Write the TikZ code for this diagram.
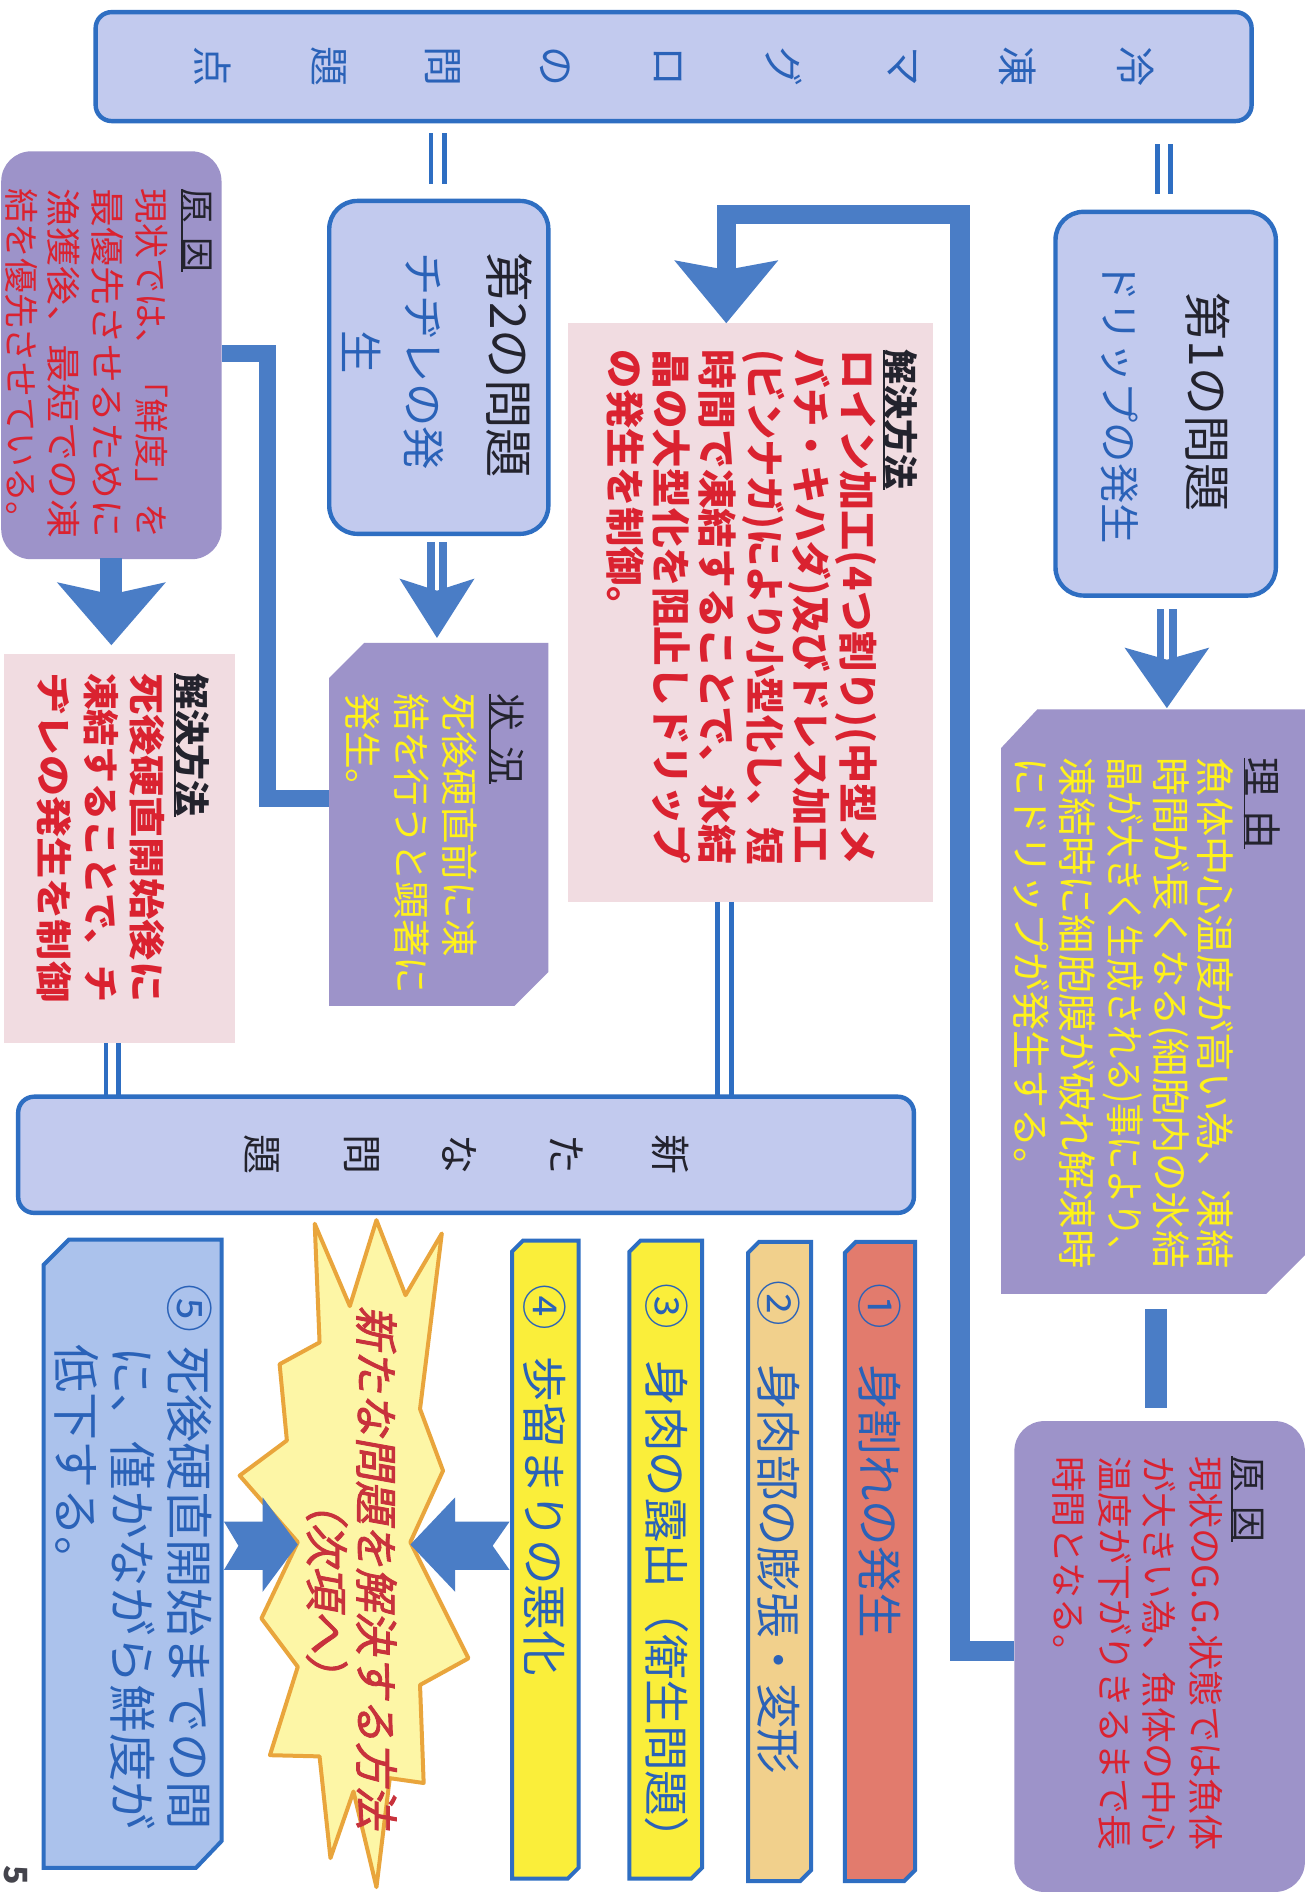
\documentclass[tikz,border=0pt]{standalone}
\usepackage{fontspec}
\usepackage{graphicx}
\setmainfont{Noto Sans CJK JP}
\newfontfamily\jpsl[FakeSlant=0.18,FakeBold=2]{Noto Sans CJK JP}
\usetikzlibrary{fit}
\definecolor{bord}{HTML}{2E6EC2}
\definecolor{arrb}{HTML}{4A7DC6}
\definecolor{lb}{HTML}{C2CAEE}
\definecolor{purp}{HTML}{9D93C9}
\definecolor{pinkb}{HTML}{F1DCE1}
\definecolor{ytxt}{HTML}{FFF21A}
\definecolor{rtxt}{HTML}{DA2230}
\definecolor{dtxt}{HTML}{23232D}
\definecolor{btxt}{HTML}{2A62B8}
\definecolor{salm}{HTML}{E27B6D}
\definecolor{tanf}{HTML}{F1D08C}
\definecolor{yelf}{HTML}{FAEE3A}
\definecolor{lbfive}{HTML}{ABC2EC}
\definecolor{starf}{HTML}{FDF6A6}
\definecolor{stard}{HTML}{E9A53C}
\definecolor{startxt}{HTML}{C8323C}
\newdimen\jpu \jpu=0.6055pt
\newcommand\fsz[1]{\fontsize{#1pt}{#1pt}\selectfont}
\newcommand\jl[2]{\resizebox{#1\jpu}{\height}{#2}}
\newcommand\dblarr[5]{%
  \fill[arrb] ({#1-8},#2) rectangle ({#1-2},{#3+12});
  \fill[arrb] ({#1+2},#2) rectangle ({#1+8},{#3+12});
  \fill[arrb] ({#1-#5},#3) -- (#1,{#3+10}) -- ({#1+#5},#3) -- (#1,#4) -- cycle;}
\newcommand\stripbox[5]{%
  \filldraw[fill=#5, draw=bord, line width=2pt, line join=miter]
    (#1,{#2+9}) -- ({#1+9},#2) -- (#3,#2) -- (#3,{#4-9}) -- ({#3-9},#4) -- (#1,#4) -- cycle;}
\tikzset{
  jcol/.style={rotate=-90, anchor=west, inner sep=0pt, outer sep=0pt},
  jch/.style={rotate=-90, inner sep=0pt, outer sep=0pt},
  blbox/.style={draw=bord, fill=lb, line width=2.2pt},
  fitbox/.style={inner sep=0pt, outer sep=0pt},
  dbl/.style={draw=bord, line width=2.4pt},
  uline/.style={draw=dtxt, line width=0.9pt},
}
\begin{document}
\begin{tikzpicture}[x=0.6055pt,y=-0.6055pt]
\useasboundingbox[fill=white] (0,0) rectangle (1081,1568);

% ---------- header
\node[fit={(79,10)(1034,100)}, fitbox, blbox, rounded corners=8pt] (hdr) {};
\foreach \c/\x [count=\i] in {冷/938,凍/841,マ/745,グ/648,ロ/552,の/459,問/366,題/272,点/176}
  \node[jch, font=\fsz{20}, text=btxt] (hc\i) at (\x,55) {\c};
\draw[dbl] (956,119) -- (956,160) (967,119) -- (967,160);
\draw[dbl] (356,110) -- (356,152) (367,110) -- (367,152);

% ---------- problem 1
\node[fit={(872,175)(1054,492)}, fitbox, blbox, rounded corners=14pt] (pA) {};
\node[jcol, font=\fsz{24}, text=dtxt] (pAt) at (998,242) {第1の問題};
\node[jcol, font=\fsz{20.2}, text=btxt] (pAs) at (925,216) {ドリップの発生};
\dblarr{964}{503}{535}{585}{35}

% ---------- reason
\fill[purp] (827,618) -- (857,586) -- (1078,586) -- (1078,1037) -- (1046,1069) -- (827,1069) -- cycle;
\node[jcol, font=\fsz{19.5}, text=dtxt] (rh) at (1043,626) {理\hspace{0.35em}由};
\draw[uline] (rh.south west) -- (rh.south east);
\node[jcol, font=\fsz{19.5}, text=ytxt] (r1) at (1004,626) {\jl{422}{魚体中心温度が高い為、凍結}};
\node[jcol, font=\fsz{19.5}, text=ytxt] (r2) at (966,626) {\jl{422}{時間が長くなる(細胞内の氷結}};
\node[jcol, font=\fsz{19.5}, text=ytxt] (r3) at (928,626) {\jl{422}{晶が大きく生成される)事により、}};
\node[jcol, font=\fsz{19.5}, text=ytxt] (r4) at (890,626) {\jl{422}{凍結時に細胞膜が破れ解凍時}};
\node[jcol, font=\fsz{19.5}, text=ytxt] (r5) at (852,626) {にドリップが発生する。};
\fill[arrb] (946,1081) rectangle (964,1163);

% ---------- cause (right)
\node[fit={(838,1174)(1078,1563)}, fitbox, fill=purp, rounded corners=15pt] (gR) {};
\node[jcol, font=\fsz{17.9}, text=dtxt] (gRh) at (1031,1203) {原\hspace{0.4em}因};
\draw[uline] (gRh.south west) -- (gRh.south east);
\node[jcol, font=\fsz{17.9}, text=rtxt] (gR1) at (996,1203) {\jl{326}{現状のG.G.状態では魚体}};
\node[jcol, font=\fsz{17.9}, text=rtxt] (gR2) at (958,1203) {\jl{326}{が大きい為、魚体の中心}};
\node[jcol, font=\fsz{17.9}, text=rtxt] (gR3) at (921,1203) {\jl{326}{温度が下がりきるまで長}};
\node[jcol, font=\fsz{17.9}, text=rtxt] (gR4) at (883,1203) {時間となる。};

% ---------- solution (middle)
\node[fit={(469,267)(771,745)}, fitbox, fill=pinkb] (sM) {};
\node[jcol, font=\fsz{17.5}\bfseries, text=dtxt] (sMh) at (744,289) {解決方法};
\draw[uline] (sMh.south west) -- (sMh.south east);
\node[jcol, font=\fsz{19.7}\bfseries, text=rtxt] (sM1) at (707,289) {\jl{425}{ロイン加工(4つ割り)(中型メ}};
\node[jcol, font=\fsz{19.7}\bfseries, text=rtxt] (sM2) at (669,289) {\jl{425}{バチ・キハダ)及びドレス加工}};
\node[jcol, font=\fsz{19.7}\bfseries, text=rtxt] (sM3) at (631,289) {\jl{425}{(ビンナガ)により小型化し、短}};
\node[jcol, font=\fsz{19.7}\bfseries, text=rtxt] (sM4) at (593,289) {\jl{425}{時間で凍結することで、氷結}};
\node[jcol, font=\fsz{19.7}\bfseries, text=rtxt] (sM5) at (555,289) {\jl{425}{晶の大型化を阻止しドリップ}};
\node[jcol, font=\fsz{19.7}\bfseries, text=rtxt] (sM6) at (517,289) {の発生を制御。};

% loop connector cause(right) -> solution(middle)
\coordinate (loopS) at (gR.west |- 0,1364);
\draw[arrb, line width=9.7pt] (loopS) -- (793,1364) -- (793,177) -- (600,177) -- (600,226);
\fill[arrb] (557,215) -- (600,223) -- (643,215) -- (sM.north -| 600,0) -- cycle;

% ---------- problem 2
\node[fit={(272,166)(453,441)}, fitbox, blbox, rounded corners=14pt] (pB) {};
\node[jcol, font=\fsz{24.7}, text=dtxt] (pBt) at (421,209) {第2の問題};
\node[jcol, font=\fsz{21.7}, text=btxt] (pBs) at (350,209) {チヂレの発};
\node[jcol, font=\fsz{21.7}, text=btxt] (pBs2) at (299,273) {生};
\dblarr{361}{448}{478}{527}{31}

% ---------- situation
\fill[purp] (272,560) -- (301,531) -- (453,531) -- (453,803) -- (425,831) -- (272,831) -- cycle;
\coordinate (jW) at (272,660);
\node[jcol, font=\fsz{18.8}, text=dtxt] (jh) at (419,573) {状\hspace{0.4em}況};
\draw[uline] (jh.south west) -- (jh.south east);
\node[jcol, font=\fsz{18.8}, text=ytxt] (j1) at (380,573) {死後硬直前に凍};
\node[jcol, font=\fsz{18.8}, text=ytxt] (j2) at (340,573) {結を行うと顕著に};
\node[jcol, font=\fsz{18.8}, text=ytxt] (j3) at (300,573) {発生。};

% ---------- cause (left)
\node[fit={(1,125)(183,462)}, fitbox, fill=purp, rounded corners=15pt] (gL) {};
\node[jcol, font=\fsz{17.4}, text=dtxt] (gLh) at (163,156) {原\hspace{0.4em}因};
\draw[uline] (gLh.south west) -- (gLh.south east);
\node[jcol, font=\fsz{17.4}, text=rtxt] (gL1) at (125,156) {\jl{289}{現状では、「鮮度」を}};
\node[jcol, font=\fsz{17.4}, text=rtxt] (gL2) at (89,156) {\jl{289}{最優先させるために}};
\node[jcol, font=\fsz{17.4}, text=rtxt] (gL3) at (53,156) {\jl{289}{漁獲後、最短での凍}};
\node[jcol, font=\fsz{17.4}, text=rtxt] (gL4) at (18,156) {結を優先させている。};

% loop connector cause(left) -> situation
\draw[arrb, line width=8.5pt] (gL.east |- 0,292) -- (221,292) -- (221,660) -- (jW);

% arrow cause(left) -> solution(left)
\fill[arrb] (83,461) rectangle (101,495);
\fill[arrb] (47,481) -- (92,491) -- (137,481) -- (92,533) -- cycle;

% ---------- solution (left)
\node[fit={(3,540)(194,862)}, fitbox, fill=pinkb] (sL) {};
\node[jcol, font=\fsz{18}\bfseries, text=dtxt] (sLh) at (159,556) {解決方法};
\draw[uline] (sLh.south west) -- (sLh.south east);
\node[jcol, font=\fsz{18.2}\bfseries, text=rtxt] (sL1) at (122,556) {\jl{272}{死後硬直開始後に}};
\node[jcol, font=\fsz{18.2}\bfseries, text=rtxt] (sL2) at (84,556) {\jl{272}{凍結することで、チ}};
\node[jcol, font=\fsz{18.2}\bfseries, text=rtxt] (sL3) at (45,556) {\jl{272}{ヂレの発生を制御}};

% ---------- new problems header
\node[fit={(15,906)(755,1002)}, fitbox, blbox, rounded corners=8pt] (nP) {};
\foreach \c/\x [count=\i] in {新/554,た/468,な/380,問/299,題/216}
  \node[jch, font=\fsz{20}, text=dtxt] (nc\i) at (\x,954) {\c};
\draw[dbl] (sM.south -| 593,0) -- (nP.north -| 593,0) (sM.south -| 604,0) -- (nP.north -| 604,0);
\draw[dbl] (sL.south -| 87.5,0) -- (nP.north -| 87.5,0) (sL.south -| 98,0) -- (nP.north -| 98,0);

% ---------- strips
\stripbox{698}{1026}{756}{1554}{salm}
\node[jcol, font=\fsz{22.8}, text=btxt] (i1n) at (727,1060) {①};
\node[jcol, font=\fsz{22.8}, text=btxt] (i1t) at (727,1127) {身割れの発生};
\stripbox{618}{1026}{670}{1554}{tanf}
\node[jcol, font=\fsz{22.8}, text=btxt] (i2n) at (643,1058) {②};
\node[jcol, font=\fsz{22.8}, text=btxt] (i2t) at (643,1127) {身肉部の膨張・変形};
\stripbox{520}{1025}{580}{1552}{yelf}
\node[jcol, font=\fsz{22.8}, text=btxt] (i3n) at (551,1060) {③};
\node[jcol, font=\fsz{22.8}, text=btxt] (i3t) at (551,1124) {身肉の露出（衛生問題）};
\stripbox{423}{1025}{478}{1552}{yelf}
\node[jcol, font=\fsz{22.8}, text=btxt] (i4n) at (450,1061) {④};
\node[jcol, font=\fsz{22.8}, text=btxt] (i4t) at (450,1121) {歩留まりの悪化};

% ---------- item 5
\filldraw[fill=lbfive, draw=bord, line width=2pt] (36,1045) -- (57,1024) -- (183,1024) -- (183,1521) -- (162,1543) -- (36,1543) -- cycle;
\node[jcol, font=\fsz{24}, text=btxt] (i5n) at (157,1061) {⑤};
\node[jcol, font=\fsz{24}, text=btxt] (i51) at (157,1112) {\jl{400}{死後硬直開始までの間}};
\node[jcol, font=\fsz{24}, text=btxt] (i52) at (110,1112) {\jl{400}{に、僅かながら鮮度が}};
\node[jcol, font=\fsz{24}, text=btxt] (i53) at (63,1111) {低下する。};

% ---------- starburst
\filldraw[fill=starf, draw=stard, line width=2pt, line join=round]
  (311,1008) -- (335,1070) -- (365,1019) -- (347,1164) -- (366,1215) -- (339,1274)
  -- (387,1370) -- (347,1392) -- (350,1473) -- (322,1469) -- (311,1559) -- (292,1480)
  -- (273,1535) -- (264,1451) -- (223,1450) -- (246,1377) -- (216,1337) -- (246,1274)
  -- (198,1219) -- (237,1190) -- (231,1127) -- (264,1109) -- (260,1011) -- (289,1079) -- cycle;
\node[jcol, font=\jpsl\fsz{21.8}, text=startxt] (st1) at (311,1079) {新たな問題を解決する方法};
\node[jcol, font=\jpsl\fsz{21.8}, text=startxt] (st2) at (270,1222) {（次項へ）};

% arrows into starburst
\fill[arrb] (421,1257) -- (376,1257) -- (376,1237) -- (339,1276) -- (376,1315) -- (376,1297) -- (421,1297) -- (407,1277) -- cycle;
\fill[arrb] (185,1257) -- (217,1257) -- (217,1237) -- (246,1276) -- (217,1315) -- (217,1297) -- (185,1297) -- (197,1277) -- cycle;

% page number
\node[jch, font=\fsz{16}\bfseries, text=dtxt!85] (pg) at (13,1549) {5};
\end{tikzpicture}
\end{document}
